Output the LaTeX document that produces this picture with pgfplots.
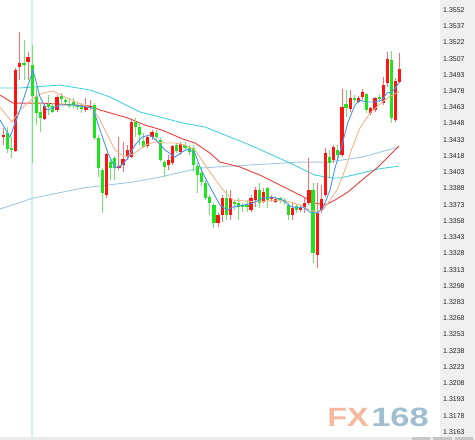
\documentclass[border=0pt]{standalone}
\usepackage{fontspec}
\setmainfont{Liberation Sans}
\usepackage{pgfplots}
\usepackage{pgfplotstable}
\pgfplotsset{compat=1.18}
\definecolor{cred}{RGB}{255,20,20}
\definecolor{wred}{RGB}{255,110,110}
\definecolor{cgreen}{RGB}{30,228,30}
\definecolor{wgreen}{RGB}{110,232,110}
\definecolor{maone}{RGB}{70,150,240}
\definecolor{matwo}{RGB}{240,180,140}
\definecolor{mathree}{RGB}{240,60,60}
\definecolor{mafour}{RGB}{70,210,220}
\definecolor{mafive}{RGB}{160,200,225}
\definecolor{vline}{RGB}{210,240,242}
\definecolor{panel}{RGB}{240,240,240}
\definecolor{fxa}{RGB}{245,185,160}
\definecolor{fxb}{RGB}{160,190,208}

\pgfplotstableread{
i hi lo top bot
0 1.34432 1.34275 1.34367 1.34349
3 1.34985 1.34211 1.34967 1.34220
4 1.35317 1.34874 1.35031 1.34994
6 1.35133 1.34874 1.35086 1.35040
10 1.34662 1.34506 1.34635 1.34515
13 1.34736 1.34579 1.34718 1.34598
20 1.34708 1.34579 1.34635 1.34598
21 1.34690 1.34598 1.34635 1.34625
25 1.34201 1.33786 1.34192 1.33814
28 1.34349 1.34045 1.34081 1.34063
29 1.34303 1.34026 1.34146 1.34091
30 1.34275 1.34137 1.34229 1.34164
31 1.34506 1.34155 1.34487 1.34164
35 1.34367 1.34247 1.34349 1.34266
36 1.34413 1.34321 1.34395 1.34349
40 1.34183 1.34045 1.34137 1.34091
41 1.34275 1.34091 1.34266 1.34109
43 1.34303 1.34183 1.34284 1.34211
52 1.33648 1.33519 1.33630 1.33556
53 1.33814 1.33565 1.33786 1.33630
55 1.33860 1.33584 1.33786 1.33630
60 1.33814 1.33657 1.33786 1.33676
61 1.33888 1.33703 1.33860 1.33768
63 1.33879 1.33740 1.33842 1.33750
65 1.33814 1.33750 1.33796 1.33777
66 1.33796 1.33740 1.33777 1.33750
70 1.33740 1.33584 1.33694 1.33630
72 1.33722 1.33657 1.33703 1.33676
73 1.33796 1.33648 1.33740 1.33694
74 1.34155 1.33722 1.33860 1.33740
76 1.33925 1.33141 1.33648 1.33261
77 1.33906 1.33648 1.33777 1.33676
78 1.34247 1.33796 1.34201 1.33814
80 1.34275 1.34109 1.34257 1.34137
82 1.34791 1.34164 1.34625 1.34183
84 1.34782 1.34579 1.34708 1.34607
86 1.34727 1.34662 1.34708 1.34672
87 1.34791 1.34690 1.34764 1.34718
89 1.34625 1.34552 1.34616 1.34570
90 1.34718 1.34579 1.34708 1.34598
92 1.34902 1.34644 1.34828 1.34662
93 1.35133 1.34810 1.35068 1.34847
95 1.34893 1.34487 1.34865 1.34506
96 1.35123 1.34847 1.34976 1.34856
}\redc

\pgfplotstableread{
i hi lo top bot
1 1.34441 1.34201 1.34386 1.34238
2 1.34349 1.34155 1.34247 1.34229
5 1.35243 1.34874 1.35031 1.35013
7 1.35197 1.34109 1.35013 1.34727
8 1.34810 1.34459 1.34727 1.34570
9 1.34662 1.34395 1.34579 1.34524
11 1.34736 1.34552 1.34653 1.34625
12 1.34662 1.34570 1.34635 1.34579
14 1.34755 1.34644 1.34727 1.34699
15 1.34718 1.34644 1.34690 1.34672
16 1.34708 1.34616 1.34653 1.34635
17 1.34708 1.34616 1.34672 1.34644
18 1.34672 1.34598 1.34644 1.34625
19 1.34662 1.34570 1.34625 1.34607
22 1.34662 1.34321 1.34644 1.34340
23 1.34367 1.33980 1.34340 1.34063
24 1.34063 1.33648 1.34045 1.33833
26 1.34155 1.33952 1.34118 1.34063
27 1.34174 1.33952 1.34155 1.34063
32 1.34524 1.34349 1.34487 1.34441
33 1.34487 1.34275 1.34441 1.34367
34 1.34386 1.34247 1.34312 1.34257
37 1.34413 1.34321 1.34386 1.34349
38 1.34340 1.34118 1.34321 1.34137
39 1.34137 1.33980 1.34118 1.34072
42 1.34294 1.34201 1.34275 1.34220
44 1.34303 1.34229 1.34275 1.34247
45 1.34275 1.34183 1.34247 1.34211
46 1.34275 1.34026 1.34247 1.34091
47 1.34109 1.33833 1.34081 1.33998
48 1.34072 1.33897 1.34017 1.33934
49 1.33952 1.33768 1.33925 1.33786
50 1.33814 1.33630 1.33796 1.33740
51 1.33740 1.33510 1.33722 1.33556
54 1.33860 1.33584 1.33786 1.33630
56 1.33768 1.33676 1.33750 1.33731
57 1.33786 1.33584 1.33740 1.33703
58 1.33740 1.33657 1.33722 1.33703
59 1.33768 1.33657 1.33722 1.33703
62 1.33925 1.33694 1.33860 1.33740
64 1.33888 1.33694 1.33879 1.33768
67 1.33796 1.33740 1.33786 1.33768
68 1.33786 1.33722 1.33768 1.33750
69 1.33740 1.33584 1.33722 1.33630
71 1.33731 1.33648 1.33713 1.33676
75 1.33925 1.33187 1.33860 1.33279
79 1.34229 1.33980 1.34164 1.34109
81 1.34275 1.34137 1.34229 1.34183
83 1.34782 1.34533 1.34653 1.34616
85 1.34736 1.34662 1.34708 1.34690
88 1.34755 1.34570 1.34745 1.34598
91 1.34745 1.34672 1.34718 1.34699
94 1.35142 1.34478 1.35059 1.34524
}\greenc

\begin{document}
\begin{tikzpicture}
\fill[panel] (440pt,0pt) rectangle (475pt,440pt);
\begin{axis}[
  at={(0pt,0pt)}, anchor=south west,
  scale only axis, width=440pt, height=440pt,
  xmin=-0.8, xmax=105.74, ymin=1.31556, ymax=1.35612,
  axis line style={draw=none},
  xtick=\empty,
  ytick={1.35520,1.35370,1.35221,1.35071,1.34922,1.34772,1.34622,1.34473,1.34323,1.34173,1.34024,1.33874,1.33725,1.33575,1.33425,1.33276,1.33126,1.32976,1.32827,1.32677,1.32528,1.32378,1.32228,1.32079,1.31929,1.31779,1.31630},
  yticklabels={1.3552,1.3537,1.3522,1.3507,1.3493,1.3478,1.3463,1.3448,1.3433,1.3418,1.3403,1.3388,1.3373,1.3358,1.3343,1.3328,1.3313,1.3298,1.3283,1.3268,1.3253,1.3238,1.3223,1.3208,1.3193,1.3178,1.3163},
  yticklabel pos=right,
  major tick length=0pt,
  scaled y ticks=false,
  yticklabel style={font=\fontsize{7}{8}\selectfont, anchor=west, inner sep=0pt, xshift=3pt, text=black!85},
  clip=true,
]
\addplot[color=vline, line width=1.6pt, forget plot] coordinates {(6.95,1.31556) (6.95,1.35612)};

% long moving averages
\addplot[color=mafive, line width=0.9pt, mark=none] coordinates {
(-0.80,1.33685) (7.19,1.33786) (19.30,1.33879) (31.40,1.33934) (37.94,1.33980) (47.63,1.34063) (59.73,1.34091) (71.84,1.34118) (78.62,1.34118) (86.85,1.34164) (95.81,1.34257)};
\addplot[color=mafour, line width=0.9pt, mark=none] coordinates {
(-0.80,1.34801) (4.04,1.34801) (13.73,1.34828) (20.99,1.34782) (25.83,1.34718) (33.10,1.34579) (37.94,1.34533) (43.51,1.34478) (48.84,1.34441) (59.73,1.34275) (69.42,1.34109) (75.47,1.33998) (79.59,1.33971) (81.53,1.33971) (86.85,1.34017) (90.73,1.34054) (95.81,1.34081)};
\addplot[color=mathree, line width=0.9pt, mark=none] coordinates {
(-0.80,1.34736) (2.35,1.34662) (8.89,1.34662) (13.73,1.34653) (20.99,1.34635) (23.41,1.34598) (30.19,1.34524) (34.31,1.34459) (38.43,1.34413) (43.51,1.34330) (46.41,1.34294) (50.05,1.34201) (52.47,1.34118) (57.31,1.34072) (62.15,1.33998) (66.99,1.33906) (71.84,1.33814) (75.47,1.33740) (77.89,1.33722) (80.31,1.33768) (83.46,1.33842) (86.85,1.33952) (90.73,1.34072) (95.81,1.34266)};

% candles
\addplot[draw=none, mark=none, forget plot, error bars/.cd, y dir=minus, y explicit, error mark=none,
  error bar style={draw=wred, line width=0.9pt}]
  table[x=i, y=hi, y error minus expr=\thisrow{hi}-\thisrow{lo}] {\redc};
\addplot[draw=none, mark=none, forget plot, error bars/.cd, y dir=minus, y explicit, error mark=none,
  error bar style={draw=wgreen, line width=0.9pt}]
  table[x=i, y=hi, y error minus expr=\thisrow{hi}-\thisrow{lo}] {\greenc};
\addplot[draw=none, mark=none, forget plot, error bars/.cd, y dir=minus, y explicit, error mark=none,
  error bar style={draw=cred, line width=3.2pt, line cap=butt}]
  table[x=i, y=top, y error minus expr=\thisrow{top}-\thisrow{bot}] {\redc};
\addplot[draw=none, mark=none, forget plot, error bars/.cd, y dir=minus, y explicit, error mark=none,
  error bar style={draw=cgreen, line width=3.2pt, line cap=butt}]
  table[x=i, y=top, y error minus expr=\thisrow{top}-\thisrow{bot}] {\greenc};

% short moving averages
\addplot[color=matwo, line width=0.9pt, mark=none] coordinates {
(-0.80,1.34625) (2.11,1.34487) (4.04,1.34598) (7.19,1.34708) (9.61,1.34755) (12.03,1.34773) (15.42,1.34708) (19.30,1.34644) (21.48,1.34616) (23.41,1.34506) (24.62,1.34413) (27.05,1.34229) (29.47,1.34164) (31.89,1.34201) (34.31,1.34275) (36.73,1.34303) (39.15,1.34294) (41.57,1.34294) (43.99,1.34275) (46.41,1.34229) (50.05,1.34026) (53.20,1.33860) (55.62,1.33768) (61.43,1.33750) (66.27,1.33768) (69.42,1.33750) (71.84,1.33722) (74.26,1.33676) (75.96,1.33657) (77.41,1.33676) (79.10,1.33768) (80.80,1.33860) (82.73,1.34045) (84.43,1.34247) (86.37,1.34432) (88.79,1.34570) (91.21,1.34653) (93.63,1.34727) (95.81,1.34764)};
\addplot[color=maone, line width=0.9pt, mark=none] coordinates {
(-0.80,1.34506) (1.62,1.34349) (4.04,1.34598) (7.19,1.34967) (8.89,1.34718) (10.58,1.34598) (12.03,1.34616) (13.73,1.34644) (16.88,1.34644) (20.27,1.34625) (21.72,1.34616) (23.41,1.34413) (25.35,1.34201) (27.05,1.34063) (28.74,1.34091) (30.19,1.34155) (31.89,1.34275) (33.58,1.34349) (35.52,1.34367) (37.46,1.34303) (39.15,1.34229) (41.57,1.34164) (43.27,1.34211) (44.72,1.34238) (46.41,1.34201) (47.63,1.34072) (50.05,1.33888) (52.47,1.33722) (54.16,1.33676) (55.62,1.33703) (58.04,1.33722) (60.46,1.33740) (62.88,1.33786) (65.30,1.33796) (67.72,1.33768) (69.42,1.33713) (71.11,1.33694) (72.57,1.33703) (74.26,1.33657) (75.96,1.33648) (77.41,1.33694) (79.10,1.33860) (80.31,1.34063) (82.01,1.34275) (83.46,1.34487) (85.16,1.34644) (86.37,1.34690) (87.58,1.34672) (90.00,1.34672) (91.70,1.34690) (92.91,1.34755) (94.12,1.34764) (95.81,1.34847)};
\end{axis}
% bottom strip
\fill[black!8] (0pt,0pt) rectangle (475pt,2.6pt);
\fill[black!22] (412pt,0pt) rectangle (430pt,2.6pt);
\fill[black!22] (433pt,0pt) rectangle (452pt,2.6pt);
\fill[black!22] (455pt,0pt) rectangle (473pt,2.6pt);
% watermark
\node[anchor=base east, inner sep=0pt, text=fxa, font=\bfseries\fontsize{26.5}{28}\selectfont, xscale=1.22] at (369pt,13pt) {FX};
\node[anchor=base west, inner sep=0pt, text=fxb, font=\bfseries\fontsize{26.5}{28}\selectfont, xscale=1.3] at (371pt,13pt) {168};
\pgfresetboundingbox
\useasboundingbox (0pt,0pt) rectangle (475pt,440pt);
\end{tikzpicture}
\end{document}
